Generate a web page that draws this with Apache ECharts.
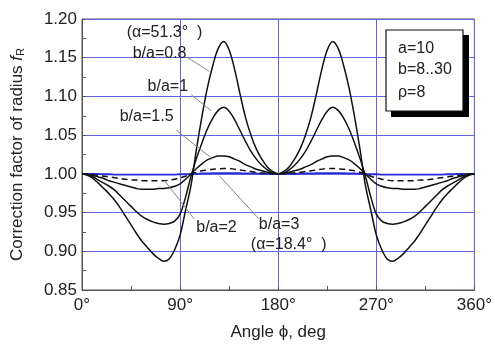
<!DOCTYPE html>
<html><head><meta charset="utf-8">
<script src="https://cdn.jsdelivr.net/npm/echarts@6/dist/echarts.min.js"></script>
<style>html,body{margin:0;padding:0;background:#fff}#c{width:495px;height:346px}</style>
</head><body><div id="c"></div>
<script>
const angles = [0,5,10,15,20,25,30,35,40,45,50,55,60,65,70,75,80,85,90,95,100,105,110,115,120,125,130,135,140,145,150,155,160,165,170,175,180,
185,190,195,200,205,210,215,220,225,230,235,240,245,250,255,260,265,270,275,280,285,290,295,300,305,310,315,320,325,330,335,340,345,350,355,360];

const b08 = [1.000,0.998,0.994,0.988,0.981,0.974,0.966,0.956,0.945,0.934,0.923,0.913,0.905,0.897,0.891,0.887,0.890,0.902,0.921,0.953,0.985,1.032,1.074,1.111,1.140,1.162,1.171,1.160,1.135,1.103,1.073,1.050,1.032,1.019,1.009,1.003,1.000,
1.003,1.009,1.019,1.032,1.050,1.073,1.103,1.135,1.160,1.171,1.162,1.140,1.111,1.074,1.032,0.985,0.953,0.921,0.902,0.890,0.887,0.891,0.897,0.905,0.913,0.923,0.934,0.945,0.956,0.966,0.974,0.981,0.988,0.994,0.998,1.000];

const b10 = [1.000,0.999,0.996,0.992,0.988,0.984,0.979,0.972,0.965,0.958,0.951,0.945,0.941,0.938,0.936,0.935,0.936,0.939,0.948,0.970,0.997,1.020,1.040,1.058,1.072,1.082,1.086,1.081,1.070,1.056,1.042,1.029,1.019,1.011,1.005,1.001,1.000,
1.001,1.005,1.011,1.019,1.029,1.042,1.056,1.070,1.081,1.086,1.082,1.072,1.058,1.040,1.020,0.997,0.970,0.948,0.939,0.936,0.935,0.936,0.938,0.941,0.945,0.951,0.958,0.965,0.972,0.979,0.984,0.988,0.992,0.996,0.999,1.000];

const b15 = [1.000,0.999,0.998,0.996,0.994,0.991,0.989,0.987,0.985,0.983,0.981,0.980,0.980,0.980,0.981,0.981,0.982,0.984,0.987,0.993,1.000,1.007,1.013,1.018,1.021,1.023,1.023,1.022,1.019,1.016,1.012,1.009,1.006,1.004,1.002,1.001,1.000,
1.001,1.002,1.004,1.006,1.009,1.012,1.016,1.019,1.022,1.023,1.023,1.021,1.018,1.013,1.007,1.000,0.993,0.987,0.984,0.982,0.981,0.981,0.980,0.980,0.980,0.981,0.983,0.985,0.987,0.989,0.991,0.994,0.996,0.998,0.999,1.000];

const b20 = [1.000,1.000,0.999,0.998,0.997,0.996,0.995,0.994,0.993,0.992,0.992,0.991,0.991,0.991,0.991,0.991,0.992,0.993,0.995,0.997,1.000,1.002,1.004,1.005,1.006,1.0065,1.007,1.007,1.006,1.005,1.004,1.003,1.002,1.001,1.001,1.000,1.000,
1.000,1.001,1.001,1.002,1.003,1.004,1.005,1.006,1.007,1.007,1.0065,1.006,1.005,1.004,1.002,1.000,0.997,0.995,0.993,0.992,0.991,0.991,0.991,0.991,0.991,0.992,0.992,0.993,0.994,0.995,0.996,0.997,0.998,0.999,1.000,1.000];

const b30 = [1.000,1.000,1.000,1.000,0.9995,0.9995,0.999,0.999,0.999,0.999,0.999,0.999,0.999,0.999,0.999,0.999,0.999,0.999,0.9995,0.9995,1.000,1.000,1.0005,1.0005,1.001,1.001,1.001,1.001,1.001,1.001,1.0005,1.0005,1.0005,1.000,1.000,1.000,1.000,
1.000,1.000,1.000,1.0005,1.0005,1.0005,1.001,1.001,1.001,1.001,1.001,1.001,1.0005,1.0005,1.000,1.000,0.9995,0.9995,0.999,0.999,0.999,0.999,0.999,0.999,0.999,0.999,0.999,0.999,0.999,0.999,0.9995,0.9995,1.000,1.000,1.000,1.000];

const xTickLabels = {0:'0°',90:'90°',180:'180°',270:'270°',360:'360°'};
const paramLines = ['a=10','b=8..30','ρ=8'];

const noteTexts = ['(α=51.3°  )','b/a=0.8','b/a=1','b/a=1.5','b/a=2','b/a=3','(α=18.4°  )'];
const noteAt = [[41.0,1.1822],[46.5,1.1555],[60.2,1.1122],[34.6,1.074],[104.8,0.9304],[162.2,0.934],[154.9,0.9085]];
const leaders = [
  [[96.6,1.1504],[116.7,1.1325]],
  [[100.3,1.102],[118.5,1.0816]],
  [[86.6,1.0562],[117.6,1.0218]],
  [[75.6,0.9913],[103.0,0.9417]],
  [[125.8,0.9977],[162.2,0.942]]
];

const FONT = "'Liberation Sans', Arial, sans-serif";
const pair = arr => angles.map((a,i)=>[a, arr[i]]);
const chart = echarts.init(document.getElementById('c'), null, {renderer:'canvas'});

function lineSeries(name, arr, style){
  return {name, type:'line', data: pair(arr), showSymbol:false, smooth:0.35, animation:false,
    lineStyle: Object.assign({color:'#111', width:1.5}, style), z: 5};
}

chart.setOption({
  animation:false,
  backgroundColor:'#fff',
  grid:{left:82, right:18, top:19, bottom:52, show:true, borderColor:'#555', borderWidth:1},
  xAxis:{type:'value', min:0, max:360, interval:90,
    axisLine:{show:true, onZero:false, lineStyle:{color:'#555', width:1}},
    axisTick:{show:true, inside:true, length:4, lineStyle:{color:'#555'}},
    minorTick:{show:true, splitNumber:2, length:4, lineStyle:{color:'#555'}},
    splitLine:{show:true, lineStyle:{color:'#6464e0', width:1}},
    axisLabel:{formatter: v => xTickLabels[v] || '', fontSize:17, color:'#222', fontFamily:FONT, margin:7},
    name:'Angle ϕ, deg', nameLocation:'middle', nameGap:34,
    nameTextStyle:{fontSize:17, color:'#222', fontFamily:FONT}
  },
  yAxis:{type:'value', min:0.85, max:1.20, interval:0.05,
    axisLine:{show:true, onZero:false, lineStyle:{color:'#555', width:1}},
    axisTick:{show:true, inside:true, length:4, lineStyle:{color:'#555'}},
    minorTick:{show:true, splitNumber:2, length:4, lineStyle:{color:'#555'}},
    splitLine:{show:true, lineStyle:{color:'#6464e0', width:1}},
    axisLabel:{formatter: v => v.toFixed(2), fontSize:17, color:'#222', fontFamily:FONT, margin:5},
    name:'Correction factor of radius {i|f}{s|R}', nameLocation:'middle', nameGap:56,
    nameTextStyle:{fontSize:17, color:'#222', fontFamily:FONT,
      rich:{i:{fontSize:17, fontStyle:'italic', fontFamily:FONT, color:'#222'},
            s:{fontSize:11, fontFamily:FONT, color:'#222', padding:[7,0,0,0]}}}
  },
  series:[
    lineSeries('b/a=3', b30, {color:'#2a2ad8', width:1.8}),
    lineSeries('b/a=2', b20, {type:[6,4]}),
    lineSeries('b/a=1.5', b15, {}),
    lineSeries('b/a=1', b10, {}),
    lineSeries('b/a=0.8', b08, {})
  ]
});

const P = c => chart.convertToPixel({gridIndex:0}, c);
const g = [];
leaders.forEach(l => {
  const a = P(l[0]), b = P(l[1]);
  g.push({type:'line', shape:{x1:a[0], y1:a[1], x2:b[0], y2:b[1]}, style:{stroke:'#888', lineWidth:1}, z:10});
});
noteTexts.forEach((t,i) => {
  const p = P(noteAt[i]);
  g.push({type:'text', x:p[0], y:p[1], style:{text:t, fill:'#222', font:'16px '+FONT, textVerticalAlign:'middle', textAlign:'left'}, z:11});
});
// parameter box
g.push({type:'rect', shape:{x:391, y:35, width:78, height:82}, style:{fill:'#000'}, z:12});
g.push({type:'rect', shape:{x:386, y:30, width:77, height:81}, style:{fill:'#fff', stroke:'#111', lineWidth:1.2}, z:13});
const ly = [49, 70, 93];
paramLines.forEach((t,i) => {
  g.push({type:'text', x:398, y:ly[i], style:{text:t, fill:'#222', font:'16px '+FONT, textVerticalAlign:'middle'}, z:14});
});
chart.setOption({graphic: g});
</script></body></html>
